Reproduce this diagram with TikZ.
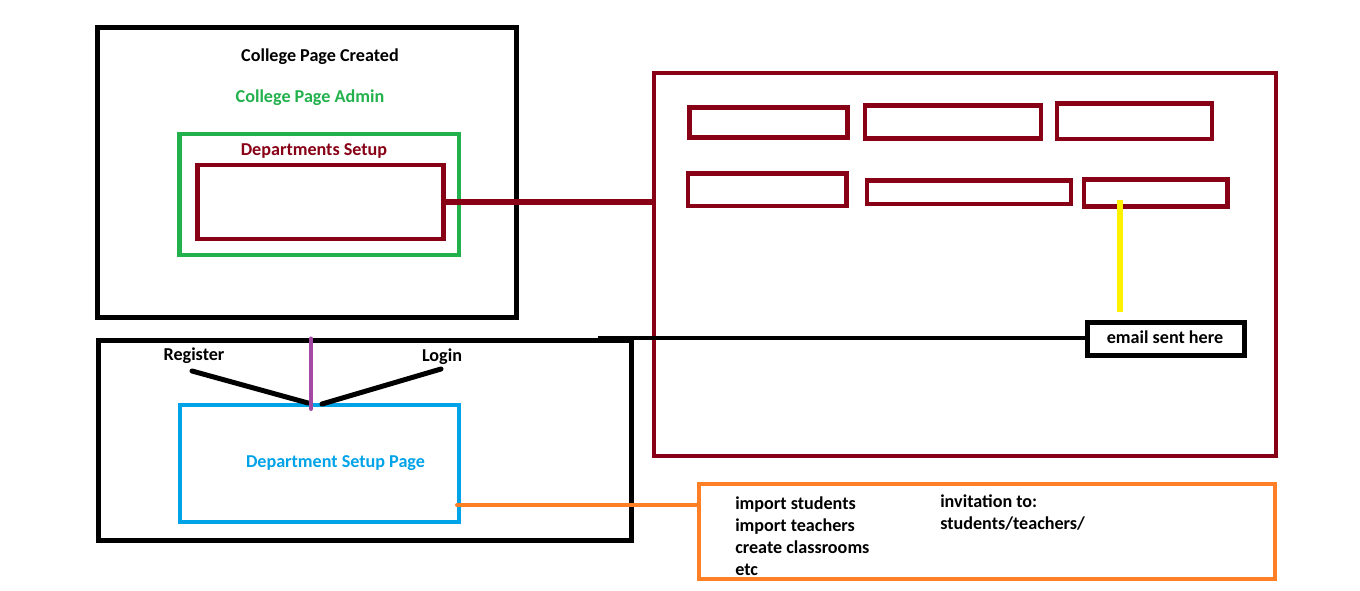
\documentclass[tikz,border=0pt]{standalone}
\usepackage{fontspec}
\setmainfont{Carlito}
\usetikzlibrary{positioning}
\definecolor{maroon}{HTML}{880015}
\definecolor{cgreen}{HTML}{22B14C}
\definecolor{cblue}{HTML}{00A2E8}
\definecolor{corange}{HTML}{FF7F27}
\definecolor{cyellow}{HTML}{FFF200}
\definecolor{cpurple}{HTML}{A349A4}
\tikzset{
  lbl/.style={font=\fontsize{13.6}{16.5}\selectfont\bfseries, inner sep=0pt},
  pagebox/.style={draw, inner sep=0pt, line width=#1*0.75pt},
  pagebox/.default=4.5,
  wh/.style 2 args={minimum width=#1*0.75pt, minimum height=#2*0.75pt},
  field/.style={pagebox=4.5, draw=maroon},
  conn/.style={line width=#1*0.75pt},
}
\begin{document}
\begin{tikzpicture}[x=0.75pt,y=-0.75pt]
    \useasboundingbox (0,0) rectangle (1360,591);
    % college page
    \node[pagebox=5, wh={419}{290}] (created) at (306.5,173) {};
    \node[pagebox=4.3, draw=cgreen, wh={279.5}{121}] (admin) at (319.25,194.5) {};
    \node[pagebox=4.5, draw=maroon, wh={246}{74}] (dept) at (320.5,202) {};
    \node[lbl] (createdTxt) at (320,57) {College Page Created};
    \node[lbl, text=cgreen] (adminTxt) at (310,98) {College Page Admin};
    \node[lbl, text=maroon] (deptTxt) at (314,151) {Departments Setup};
    % setup page with its fields
    \node[pagebox=4, draw=maroon, wh={622}{383}] (setup) at (965,264.5) {};
    \node[field, wh={158}{30}] (f1) at (768.7,122.6) {};
    \node[field, wh={176}{32.7}] (f2) at (953,122) {};
    \node[field, wh={155}{35.4}] (f3) at (1134.5,121.3) {};
    \node[field, wh={158.4}{32.3}] (f4) at (767.2,189.8) {};
    \node[field, wh={204.1}{23.3}] (f5) at (968.8,192.3) {};
    \node[field, wh={143.5}{26.9}] (f6) at (1155.8,193) {};
    \node[pagebox=5, wh={157.5}{33}] (mail) at (1165.75,339.5) {};
    \node[lbl] (mailTxt) at (1165,337) {email sent here};
    % department setup page
    \node[pagebox=5, wh={533}{199}] (bottom) at (364.5,440.5) {};
    \node[pagebox=4.5, draw=cblue, wh={279}{117}] (blue) at (319.5,463.5) {};
    \node[lbl, text=cblue] (blueTxt) at (335.5,463) {Department Setup Page};
    \node[lbl] (reg) at (194,356) {Register};
    \node[lbl] (login) at (442,357) {Login};
    \node[pagebox=4, draw=corange, wh={576}{95}] (tasks) at (987,531.5) {};
    \node[lbl, align=left, anchor=north west] (taskList) at (735,497)
        {import students\\import teachers\\create classrooms\\etc};
    \node[lbl, align=left, anchor=north west] (invite) at (940,494)
        {invitation to:\\students/teachers/};
    % connectors
    \coordinate (regA) at (192,371);
    \coordinate (regB) at (308,403);
    \coordinate (logA) at (441,369);
    \coordinate (logB) at (322,404);
    \coordinate (split) at (311,409);
    \coordinate (impOut) at (457,505);
    \coordinate (mailEnd) at (598,338.5);
    \coordinate (ytop) at (1120,200);
    \draw[conn=6, maroon] (dept.east) -- (dept.east -| setup.west);
    \draw[conn=5, line cap=round] (regA) -- (regB);
    \draw[conn=5, line cap=round] (logA) -- (logB);
    \draw[conn=4, cpurple, line cap=round] (split |- bottom.north) -- (split);
    \draw[conn=4, corange, line cap=round] (impOut) -- (impOut -| tasks.west);
    \draw[conn=4] (mailEnd) -- (mailEnd -| mail.west);
    \draw[conn=6, cyellow, shorten >=6pt] (ytop) -- (ytop |- mail.north);
\end{tikzpicture}
\end{document}
